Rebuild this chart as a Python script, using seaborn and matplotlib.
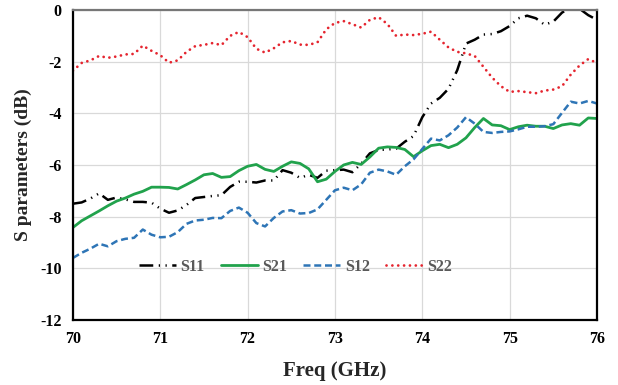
import numpy as np
import pandas as pd
import matplotlib
matplotlib.use("Agg")
import matplotlib.pyplot as plt
import seaborn as sns

freq = [70.0, 70.1, 70.2, 70.3, 70.4, 70.5, 70.6, 70.7, 70.8, 70.9,
        71.0, 71.1, 71.2, 71.3, 71.4, 71.5, 71.6, 71.7, 71.8, 71.9,
        72.0, 72.1, 72.2, 72.3, 72.4, 72.5, 72.6, 72.7, 72.8, 72.9,
        73.0, 73.1, 73.2, 73.3, 73.4, 73.5, 73.6, 73.7, 73.8, 73.9,
        74.0, 74.1, 74.2, 74.3, 74.4, 74.5, 74.6, 74.7, 74.8, 74.9,
        75.0, 75.1, 75.2, 75.3, 75.4, 75.5, 75.6, 75.7, 75.8, 75.9, 76.0]

s11 = [-7.50, -7.45, -7.30, -7.10, -7.35, -7.26, -7.33, -7.43, -7.43, -7.46,
       -7.69, -7.85, -7.76, -7.55, -7.28, -7.24, -7.20, -7.17, -6.85, -6.65,
       -6.65, -6.68, -6.60, -6.60, -6.20, -6.30, -6.50, -6.38, -6.50, -6.22,
       -6.20, -6.18, -6.28, -5.95, -5.55, -5.42, -5.40, -5.37, -5.10, -4.88,
       -4.15, -3.62, -3.40, -3.05, -2.33, -1.30, -1.15, -0.95, -0.93, -0.82,
       -0.62, -0.32, -0.22, -0.32, -0.57, -0.45, -0.10, 0.10, 0.05, -0.20, -0.38]

s21 = [-8.42, -8.16, -7.97, -7.78, -7.58, -7.40, -7.28, -7.13, -7.02, -6.86,
       -6.86, -6.87, -6.93, -6.76, -6.58, -6.38, -6.33, -6.48, -6.45, -6.22,
       -6.05, -5.98, -6.17, -6.25, -6.05, -5.88, -5.94, -6.15, -6.65, -6.55,
       -6.25, -6.00, -5.90, -5.98, -5.69, -5.35, -5.30, -5.32, -5.40, -5.68,
       -5.45, -5.25, -5.20, -5.33, -5.20, -4.95, -4.55, -4.20, -4.45, -4.48,
       -4.63, -4.52, -4.46, -4.50, -4.50, -4.59, -4.45, -4.40, -4.46, -4.18, -4.20]

s12 = [-9.60, -9.40, -9.24, -9.05, -9.15, -8.95, -8.86, -8.82, -8.50, -8.70,
       -8.80, -8.78, -8.60, -8.28, -8.15, -8.12, -8.05, -8.06, -7.78, -7.65,
       -7.85, -8.25, -8.38, -8.05, -7.80, -7.75, -7.88, -7.86, -7.72, -7.35,
       -6.98, -6.88, -6.98, -6.75, -6.30, -6.18, -6.25, -6.38, -6.05, -5.78,
       -5.38, -4.98, -5.05, -4.85, -4.55, -4.15, -4.40, -4.72, -4.76, -4.72,
       -4.70, -4.62, -4.52, -4.52, -4.50, -4.42, -3.98, -3.55, -3.62, -3.52, -3.62]

s22 = [-2.35, -2.05, -1.95, -1.78, -1.85, -1.80, -1.72, -1.70, -1.38, -1.58,
       -1.75, -2.04, -1.95, -1.62, -1.40, -1.35, -1.28, -1.36, -1.00, -0.85,
       -1.05, -1.50, -1.65, -1.48, -1.25, -1.20, -1.34, -1.35, -1.25, -0.75,
       -0.50, -0.43, -0.55, -0.68, -0.38, -0.28, -0.54, -1.00, -0.95, -0.97,
       -0.92, -0.84, -1.15, -1.45, -1.62, -1.68, -1.78, -2.20, -2.62, -2.95,
       -3.17, -3.14, -3.18, -3.22, -3.12, -3.08, -2.95, -2.50, -2.15, -1.90, -2.05]

x_ticks = [70, 71, 72, 73, 74, 75, 76]
y_ticks = [0, -2, -4, -6, -8, -10, -12]

sns.set_theme(style="whitegrid")
plt.rcParams['font.family'] = ['Liberation Serif', 'DejaVu Serif']
plt.rcParams['font.weight'] = 'bold'
plt.rcParams['axes.unicode_minus'] = False

fig = plt.figure(figsize=(6.18, 3.85), dpi=100)
ax = fig.add_axes([0.118, 0.169, 0.848, 0.805])

series = [
    ("S11", s11, "black", 1.8, (0, (5.5, 2.2, 0.5, 2.2, 0.5, 2.2)), "butt"),
    ("S21", s21, "#21a24c", 2.0, "-", "butt"),
    ("S12", s12, "#2e75b6", 1.8, (0, (2.8, 1.5)), "butt"),
    ("S22", s22, "#e5252f", 2.0, (0, (0.01, 2.1)), "round"),
]
for name, vals, col, lw, ls, cap in series:
    sns.lineplot(x=freq, y=vals, ax=ax, color=col, lw=lw, linestyle=ls,
                 label=name, dash_capstyle=cap)

ax.set_xlim(70, 76)
ax.set_ylim(-12, 0)
ax.set_xticks(x_ticks)
ax.set_yticks(y_ticks)
ax.tick_params(axis='both', length=0, labelsize=11.5, colors='black')
ax.tick_params(axis='x', pad=8)
ax.tick_params(axis='y', pad=8)
for lab in ax.get_xticklabels() + ax.get_yticklabels():
    lab.set_fontweight('bold')
ax.grid(True, color='#d9d9d9', lw=0.9)
for side in ['left', 'bottom', 'right']:
    ax.spines[side].set_color('black')
    ax.spines[side].set_linewidth(1.6)
ax.spines['top'].set_color('#777777')
ax.spines['top'].set_linewidth(1.6)

ax.set_xlabel("Freq (GHz)", fontsize=15, fontweight='bold', labelpad=10)
ax.set_ylabel("S parameters (dB)", fontsize=14, fontweight='bold', labelpad=6)

leg = ax.legend(loc='center', bbox_to_anchor=(0.425, 0.171), ncol=4, frameon=False,
                fontsize=11.5, handlelength=2.3, handletextpad=0.3, columnspacing=1.0)
for t in leg.get_texts():
    t.set_color('#595959')

fig.savefig("out.png", dpi=100)
